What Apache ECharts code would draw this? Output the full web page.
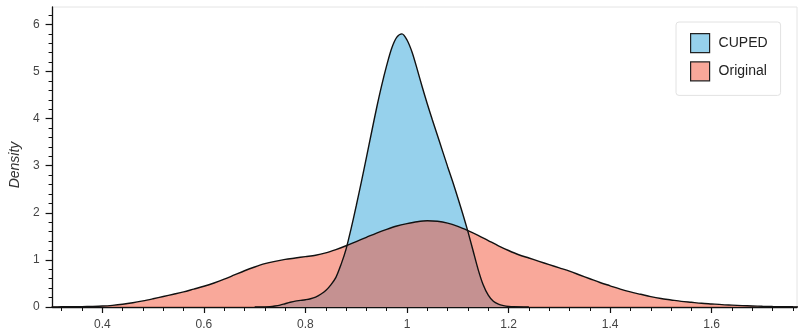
<!DOCTYPE html>
<html>
<head>
<meta charset="utf-8">
<script src="https://cdn.jsdelivr.net/npm/echarts@6/dist/echarts.min.js"></script>
<style>
html,body{margin:0;padding:0;background:#fff;}
#chart{width:800px;height:335px;}
</style>
</head>
<body>
<div id="chart"></div>
<script>
// ---- data ----
var seriesNames = ['CUPED', 'Original'];

var cupedX = [0.70,0.72,0.73,0.74,0.75,0.76,0.77,0.78,0.79,0.80,0.81,0.82,0.83,0.84,0.85,0.86,0.87,0.88,0.89,0.90,
              0.91,0.92,0.93,0.94,0.95,0.96,0.97,0.98,0.99,1.00,1.01,1.02,1.03,1.04,1.05,1.06,1.07,1.08,1.09,1.10,
              1.11,1.12,1.13,1.14,1.15,1.16,1.17,1.18,1.19,1.20,1.21,1.24];
var cupedY = [0.0,0.002,0.006,0.02,0.04,0.07,0.10,0.125,0.14,0.155,0.175,0.21,0.27,0.35,0.47,0.63,0.90,1.23,1.67,2.15,
              2.65,3.17,3.70,4.22,4.70,5.13,5.50,5.73,5.80,5.67,5.41,5.05,4.67,4.31,3.97,3.64,3.31,2.98,2.66,2.32,
              1.97,1.60,1.20,0.80,0.47,0.25,0.12,0.06,0.03,0.012,0.004,0.0];

var originalX = [0.30,0.32,0.34,0.36,0.38,0.40,0.42,0.44,0.46,0.48,0.50,0.52,0.54,0.56,0.58,0.60,0.62,0.64,0.66,0.68,
                 0.70,0.72,0.74,0.76,0.78,0.80,0.82,0.84,0.86,0.88,0.90,0.92,0.94,0.96,0.98,1.00,1.02,1.04,1.06,1.08,
                 1.10,1.12,1.14,1.16,1.18,1.20,1.22,1.24,1.26,1.28,1.30,1.32,1.34,1.36,1.38,1.40,1.42,1.44,1.46,1.48,
                 1.50,1.52,1.54,1.56,1.58,1.60,1.62,1.64,1.66,1.68,1.70,1.72,1.74,1.76,1.78];
var originalY = [0.003,0.004,0.006,0.009,0.013,0.02,0.035,0.058,0.09,0.13,0.175,0.222,0.27,0.32,0.38,0.44,0.51,0.59,0.68,0.77,
                 0.85,0.92,0.97,1.01,1.04,1.07,1.10,1.15,1.22,1.30,1.39,1.48,1.57,1.65,1.72,1.77,1.81,1.83,1.82,1.78,
                 1.71,1.62,1.52,1.41,1.30,1.20,1.11,1.04,0.97,0.90,0.83,0.76,0.68,0.60,0.52,0.45,0.38,0.32,0.27,0.22,
                 0.18,0.15,0.12,0.10,0.08,0.065,0.05,0.04,0.03,0.022,0.015,0.01,0.007,0.004,0.002];

var xMajorTicks = [0.4,0.6,0.8,1.0,1.2,1.4,1.6];
var xMinorTicks = [0.32,0.36,0.44,0.48,0.52,0.56,0.64,0.68,0.72,0.76,0.84,0.88,0.92,0.96,
                   1.04,1.08,1.12,1.16,1.24,1.28,1.32,1.36,1.44,1.48,1.52,1.56,1.64,1.68,1.72,1.76];
var yMajorTicks = [0,1,2,3,4,5,6];
var yMinorTicks = [0.2,0.4,0.6,0.8,1.2,1.4,1.6,1.8,2.2,2.4,2.6,2.8,3.2,3.4,3.6,3.8,
                   4.2,4.4,4.6,4.8,5.2,5.4,5.6,5.8,6.2];

var xRange = [0.302, 1.768];
var yRange = [0, 6.37];
var yTitle = 'Density';

// ---- chart ----
function pairs(xs, ys){ var out=[]; for (var i=0;i<xs.length;i++) out.push([xs[i], ys[i]]); return out; }

var FONT = '"Liberation Sans", Arial, Helvetica, sans-serif';
var cupedColor = '#96D1EC';
var origColor = 'rgba(243,81,53,0.5)';

var chart = echarts.init(document.getElementById('chart'), null, {renderer:'canvas'});
chart.setOption({
  animation: false,
  backgroundColor: '#fff',
  textStyle: {fontFamily: FONT},
  grid: {left: 48, right: 3, top: 7, bottom: 28, show: true, borderColor: '#e4e4e4', borderWidth: 1, backgroundColor: 'transparent'},
  legend: {
    orient: 'vertical', left: 676, top: 22,
    padding: [11, 13, 14, 14],
    borderColor: '#e2e2e2', borderWidth: 1, borderRadius: 3,
    backgroundColor: '#fff',
    icon: 'rect', itemWidth: 19, itemHeight: 19, itemGap: 8,
    textStyle: {fontFamily: FONT, fontSize: 14, color: '#222', padding: [0,0,0,4]},
    data: [
      {name: seriesNames[0], itemStyle: {color: cupedColor, borderColor: '#222', borderWidth: 1.2}},
      {name: seriesNames[1], itemStyle: {color: origColor, borderColor: '#222', borderWidth: 1.2}}
    ]
  },
  xAxis: [
    {
      type: 'value', min: xRange[0], max: xRange[1], position: 'bottom',
      axisLine: {show: true, onZero: false, lineStyle: {color: '#111', width: 1.3}},
      axisTick: {show: true, customValues: xMajorTicks, length: 6, lineStyle: {color: '#111', width: 1.2}},
      axisLabel: {show: true, customValues: xMajorTicks, margin: 12, fontSize: 12, color: '#444', fontFamily: FONT},
      splitLine: {show: false}
    },
    {
      type: 'value', min: xRange[0], max: xRange[1], position: 'bottom',
      axisLine: {show: false, onZero: false},
      axisTick: {show: true, customValues: xMinorTicks, length: 4, lineStyle: {color: '#111', width: 1}},
      axisLabel: {show: false},
      splitLine: {show: false}
    }
  ],
  yAxis: [
    {
      type: 'value', min: yRange[0], max: yRange[1], position: 'left',
      name: yTitle, nameLocation: 'middle', nameGap: 23, nameRotate: 90,
      nameTextStyle: {fontFamily: FONT, fontSize: 14, fontStyle: 'italic', color: '#333', padding: [0, 16, 0, 0]},
      axisLine: {show: true, onZero: false, lineStyle: {color: '#111', width: 1.3}},
      axisTick: {show: true, customValues: yMajorTicks, length: 7, lineStyle: {color: '#111', width: 1.2}},
      axisLabel: {show: true, customValues: yMajorTicks, margin: 13, fontSize: 12, color: '#444', fontFamily: FONT},
      splitLine: {show: false}
    },
    {
      type: 'value', min: yRange[0], max: yRange[1], position: 'left',
      axisLine: {show: false, onZero: false},
      axisTick: {show: true, customValues: yMinorTicks, length: 4, lineStyle: {color: '#111', width: 1}},
      axisLabel: {show: false},
      splitLine: {show: false}
    }
  ],
  series: [
    {
      name: seriesNames[0], type: 'line', xAxisIndex: 0, yAxisIndex: 0,
      data: pairs(cupedX, cupedY), smooth: 0.3, showSymbol: false, symbol: 'none',
      itemStyle: {color: cupedColor},
      lineStyle: {color: '#111', width: 1.4},
      areaStyle: {color: cupedColor, opacity: 1},
      clip: true
    },
    {
      name: seriesNames[1], type: 'line', xAxisIndex: 0, yAxisIndex: 0,
      data: pairs(originalX, originalY), smooth: 0.3, showSymbol: false, symbol: 'none',
      itemStyle: {color: origColor},
      lineStyle: {color: '#111', width: 1.4},
      areaStyle: {color: origColor, opacity: 1},
      clip: true
    }
  ]
});
</script>
</body>
</html>
